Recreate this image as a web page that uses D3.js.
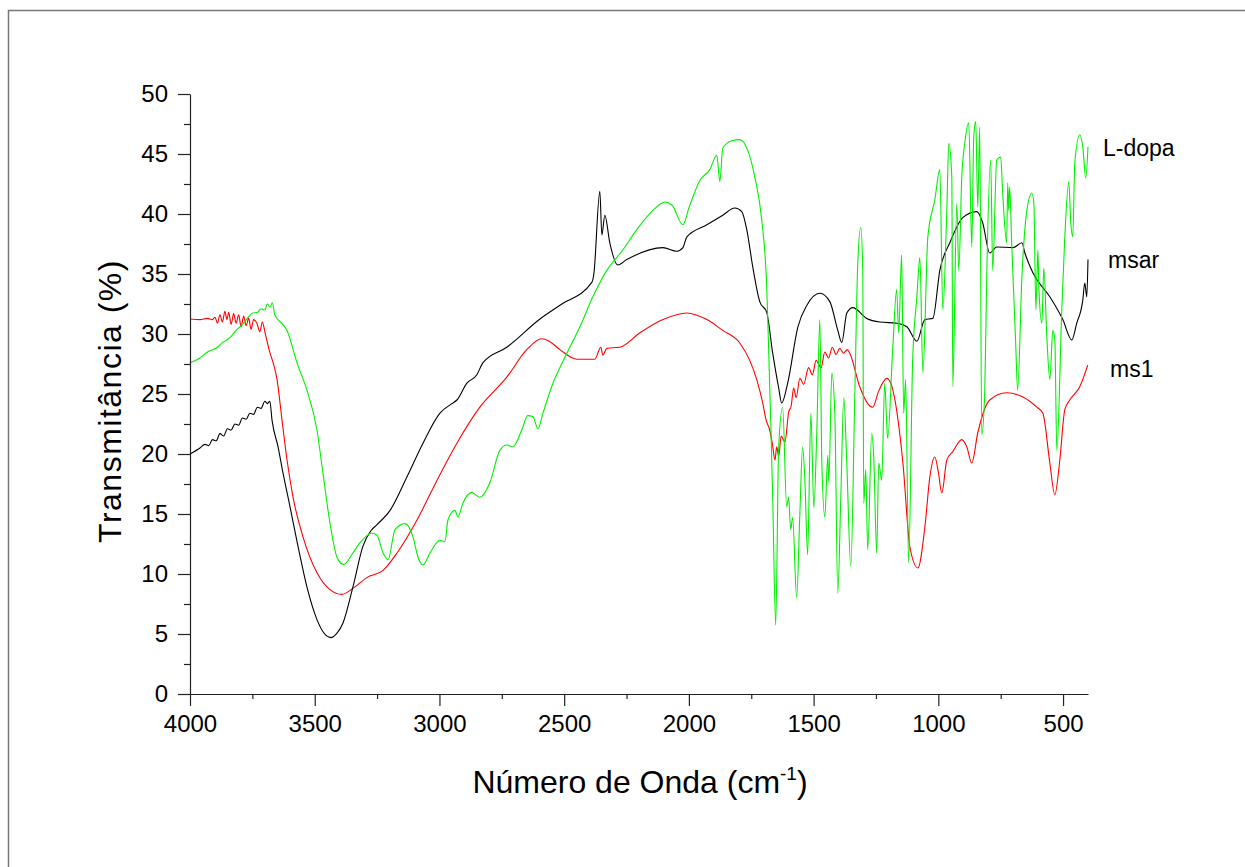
<!DOCTYPE html>
<html>
<head>
<meta charset="utf-8">
<script src="https://cdn.jsdelivr.net/npm/d3@7"></script>
<style>
  body { margin: 0; background: #fff; }
  text { font-family: "Liberation Sans", Arial, sans-serif; fill: #000; }
</style>
</head>
<body>
<div id="chart"></div>
<script>
// wavenumber (cm-1), transmittance (%)
const msar = [
  [4000,20.0],[3960,20.5],[3940,20.8],[3925,20.7],[3910,21.2],[3895,21.1],[3880,21.7],[3865,21.5],
  [3850,22.1],[3835,22.0],[3820,22.5],[3805,22.4],[3790,23.0],[3775,22.9],[3760,23.4],[3745,23.3],
  [3730,23.9],[3715,23.8],[3700,24.4],[3690,24.2],[3680,24.4],[3671,22.8],[3647,20.6],[3627,18.4],
  [3599,15.6],[3567,12.3],[3531,8.9],[3491,6.2],[3460,5.0],[3435,4.7],[3410,5.1],[3387,5.9],
  [3347,8.9],[3307,12.3],[3275,13.6],[3251,14.1],[3198,15.3],[3130,18.1],[3066,20.9],[2998,23.4],
  [2950,24.2],[2930,24.5],[2890,25.9],[2850,26.6],[2826,27.6],[2730,28.9],[2597,31.25],[2517,32.4],
  [2389,34.3],[2381,35.0],[2357,41.9],[2349,38.25],[2337,39.9],[2317,37.6],[2285,35.75],[2249,36.2],
  [2104,37.2],[2048,36.9],[2024,37.2],[2008,38.1],[1928,39.1],[1864,39.9],[1816,40.5],[1788,40.2],
  [1768,38.7],[1744,35.6],[1716,32.7],[1688,31.8],[1664,28.4],[1640,25.5],[1628,24.25],[1604,25.9],
  [1563,30.6],[1527,32.4],[1475,33.4],[1435,32.7],[1403,30.3],[1387,29.3],[1367,31.75],[1343,32.2],
  [1287,31.3],[1234,31.0],[1166,30.9],[1126,30.6],[1086,29.4],[1054,31.2],[1022,31.3],[994,35.3],
  [954,37.6],[902,39.7],[846,40.2],[822,39.25],[794,36.75],[766,37.25],[701,37.2],[665,37.6],
  [653,36.75],[621,35.1],[553,33.1],[501,31.2],[465,29.5],[445,30.9],[421,32.8],[413,34.25],
  [405,33.1],[400,36.2]
];

const ms1 = [
  [4000,31.25],[3960,31.2],[3930,31.3],[3910,31.2],[3900,31.4],[3890,30.9],[3880,31.6],[3870,31.0],
  [3860,31.9],[3852,31.2],[3845,31.8],[3835,30.8],[3825,31.7],[3815,30.9],[3805,31.6],[3795,30.6],
  [3785,31.5],[3775,30.7],[3765,31.3],[3755,30.4],[3745,31.2],[3732,30.9],[3720,30.2],[3710,31.0],
  [3699,30.1],[3679,28.4],[3665,27.5],[3651,26.2],[3631,22.8],[3611,19.5],[3587,16.4],[3547,13.1],
  [3491,10.1],[3439,8.7],[3391,8.3],[3347,8.8],[3291,9.7],[3226,10.3],[3170,11.75],[3090,14.5],
  [3010,17.8],[2930,20.9],[2838,23.9],[2730,26.4],[2650,28.7],[2590,29.6],[2560,29.4],[2517,28.7],
  [2449,27.9],[2377,27.9],[2353,28.9],[2345,28.25],[2329,28.8],[2277,28.9],[2196,30.1],[2104,31.2],
  [2008,31.75],[1928,31.2],[1864,30.3],[1796,29.25],[1756,27.8],[1728,26.2],[1704,24.25],[1690,22.8],
  [1676,22.0],[1665,20.8],[1655,19.5],[1648,20.6],[1640,19.8],[1630,21.5],[1615,21.0],[1600,23.5],
  [1590,24.0],[1580,25.5],[1570,24.7],[1555,26.3],[1540,25.8],[1520,27.2],[1505,26.6],[1490,27.8],
  [1470,27.2],[1455,28.5],[1440,28.0],[1425,28.9],[1410,28.3],[1395,28.8],[1380,28.4],[1365,28.7],
  [1355,28.4],[1315,25.6],[1275,24.0],[1263,23.9],[1240,25.2],[1206,26.3],[1182,25.3],[1142,19.25],
  [1114,12.25],[1082,10.5],[1054,13.9],[1034,18.1],[1014,19.75],[1000,18.5],[986,16.75],[966,19.5],
  [942,20.2],[906,21.2],[886,20.6],[866,19.25],[842,21.75],[794,24.5],[726,25.1],[661,24.75],
  [605,23.9],[581,23.4],[553,19.25],[533,16.6],[513,19.5],[493,23.7],[473,24.5],[433,25.6],[401,27.4]
];

const ldopa = [
  [4000,27.6],[3960,28.0],[3930,28.5],[3908,28.7],[3890,28.9],[3870,29.3],[3852,29.5],[3835,29.8],
  [3820,30.2],[3800,30.6],[3785,30.9],[3770,31.3],[3748,31.75],[3730,31.8],[3715,32.1],[3700,32.0],
  [3690,32.5],[3679,32.25],[3670,32.6],[3660,31.6],[3647,31.2],[3611,30.3],[3571,27.6],[3531,25.3],
  [3491,22.0],[3467,18.4],[3439,14.25],[3411,11.4],[3395,10.9],[3383,10.8],[3347,11.75],[3319,12.6],
  [3271,13.4],[3251,13.25],[3226,11.75],[3206,11.2],[3178,13.7],[3138,14.2],[3106,13.1],[3086,11.4],
  [3066,10.75],[3038,11.75],[2998,12.8],[2978,12.7],[2966,14.5],[2938,15.3],[2926,14.75],[2906,15.9],
  [2870,16.8],[2838,16.4],[2798,17.6],[2758,20.3],[2730,20.75],[2706,20.6],[2670,22.0],[2646,23.2],
  [2625,23.1],[2605,22.1],[2585,23.4],[2545,25.9],[2517,27.2],[2489,28.4],[2437,30.6],[2385,33.1],
  [2329,35.3],[2265,37.0],[2209,38.7],[2144,40.3],[2096,41.0],[2068,40.75],[2024,39.1],[2000,40.5],
  [1956,42.8],[1916,43.7],[1888,44.9],[1876,42.7],[1864,45.5],[1828,46.1],[1796,46.2],[1764,45.3],
  [1736,43.1],[1708,39.5],[1688,33.9],[1684,31.4],[1672,22.8],[1664,16.4],[1652,5.75],[1640,20.6],
  [1624,23.9],[1608,15.6],[1600,16.4],[1592,13.7],[1584,14.7],[1568,8.0],[1555,15.1],[1544,20.6],
  [1535,17.8],[1524,11.6],[1511,23.4],[1499,15.5],[1487,22.0],[1475,31.2],[1467,19.25],[1455,14.75],
  [1443,19.9],[1439,17.6],[1427,26.75],[1415,23.4],[1403,8.4],[1391,16.4],[1379,24.7],[1367,19.25],
  [1351,10.6],[1335,24.75],[1323,35.9],[1311,38.9],[1303,35.3],[1299,15.9],[1291,18.7],[1283,12.0],
  [1267,21.75],[1259,19.75],[1247,11.75],[1239,19.25],[1227,17.8],[1215,25.9],[1207,22.6],[1203,21.3],
  [1183,28.7],[1167,33.7],[1159,30.1],[1147,36.6],[1139,23.4],[1131,26.2],[1119,10.9],[1103,27.8],
  [1086,33.1],[1074,36.4],[1062,26.75],[1042,38.1],[1014,41.2],[994,43.7],[982,32.0],[966,40.3],
  [958,45.9],[946,43.1],[942,25.6],[926,40.9],[918,35.3],[906,43.1],[894,45.9],[878,47.6],
  [866,37.25],[858,46.4],[850,47.7],[842,40.6],[834,47.25],[826,21.6],[814,25.1],[806,34.75],
  [790,44.5],[782,35.3],[766,44.5],[750,44.75],[742,41.75],[726,37.6],[722,42.6],[718,40.3],
  [714,42.25],[706,37.6],[690,29.25],[682,25.3],[665,34.75],[645,40.3],[625,41.75],[617,40.9],
  [609,32.0],[601,37.0],[597,33.9],[585,30.9],[577,35.5],[565,29.75],[553,26.2],[541,30.3],
  [533,29.5],[525,20.3],[505,32.0],[493,38.1],[477,42.7],[469,39.25],[461,38.1],[453,44.25],
  [433,46.6],[421,45.6],[409,43.0],[400,45.6]
];

const xTicks = [4000, 3500, 3000, 2500, 2000, 1500, 1000, 500];
const xMinor = [3750, 3250, 2750, 2250, 1750, 1250, 750];
const yTicks = [0, 5, 10, 15, 20, 25, 30, 35, 40, 45, 50];
const yMinor = [2.5, 7.5, 12.5, 17.5, 22.5, 27.5, 32.5, 37.5, 42.5, 47.5];

const series = [
  {name: 'ms1', data: ms1, colour: '#ff0000', labelX: 1110, labelY: 377},
  {name: 'msar', data: msar, colour: '#000000', labelX: 1108, labelY: 268},
  {name: 'L-dopa', data: ldopa, colour: '#00f000', labelX: 1103, labelY: 156}
];

const width = 1245;
const height = 867;

const svg = d3.select('#chart').append('svg')
    .attr('width', width)
    .attr('height', height);

// outer frame (only left and top edges are visible)
svg.append('rect')
    .attr('x', 8.5).attr('y', 10.5)
    .attr('width', 1300).attr('height', 900)
    .attr('fill', 'none')
    .attr('stroke', '#777')
    .attr('stroke-width', 1.5);

const x = d3.scaleLinear().domain([4000, 400]).range([190, 1088]);
const y = d3.scaleLinear().domain([0, 50]).range([694, 94]);

const line = d3.line()
    .x(d => x(d[0]))
    .y(d => y(d[1]))
    .curve(d3.curveMonotoneX);

series.forEach(s => {
  svg.append('path')
      .datum(s.data)
      .attr('fill', 'none')
      .attr('stroke', s.colour)
      .attr('stroke-width', 1.1)
      .attr('stroke-linejoin', 'round')
      .attr('d', line);

  svg.append('text')
      .attr('x', s.labelX)
      .attr('y', s.labelY)
      .style('font-size', '23px')
      .text(s.name);
});

const fmt = d3.format('d');

// Y axis
svg.append('g')
    .attr('transform', 'translate(190,0)')
    .call(d3.axisLeft(y).tickValues(yTicks).tickFormat(fmt).tickSize(12).tickSizeOuter(0).tickPadding(10));
svg.append('g')
    .attr('transform', 'translate(190,0)')
    .call(d3.axisLeft(y).tickValues(yMinor).tickSize(6).tickFormat(''))
    .select('.domain').remove();

// X axis
svg.append('g')
    .attr('transform', 'translate(0,694)')
    .call(d3.axisBottom(x).tickValues(xTicks).tickFormat(fmt).tickSize(12).tickSizeOuter(0).tickPadding(9));
svg.append('g')
    .attr('transform', 'translate(0,694)')
    .call(d3.axisBottom(x).tickValues(xMinor).tickSize(5).tickFormat(''))
    .select('.domain').remove();

svg.selectAll('.tick text')
    .style('font-size', '24px')
    .style('font-family', '"Liberation Sans", Arial, sans-serif')
    .attr('fill', '#000');
svg.selectAll('.domain, .tick line').attr('stroke', '#222').attr('stroke-width', 1.2);

// axis titles
svg.append('text')
    .attr('transform', 'translate(121,401) rotate(-90)')
    .attr('text-anchor', 'middle')
    .style('font-size', '32px')
    .style('letter-spacing', '1.5px')
    .text('Transmitância (%)');

const xTitle = svg.append('text')
    .attr('x', 640)
    .attr('y', 793)
    .attr('text-anchor', 'middle')
    .style('font-size', '32px');
xTitle.append('tspan').text('Número de Onda (cm');
xTitle.append('tspan').attr('dy', -13).style('font-size', '19px').text('-1');
xTitle.append('tspan').attr('dy', 13).text(')');
</script>
</body>
</html>
